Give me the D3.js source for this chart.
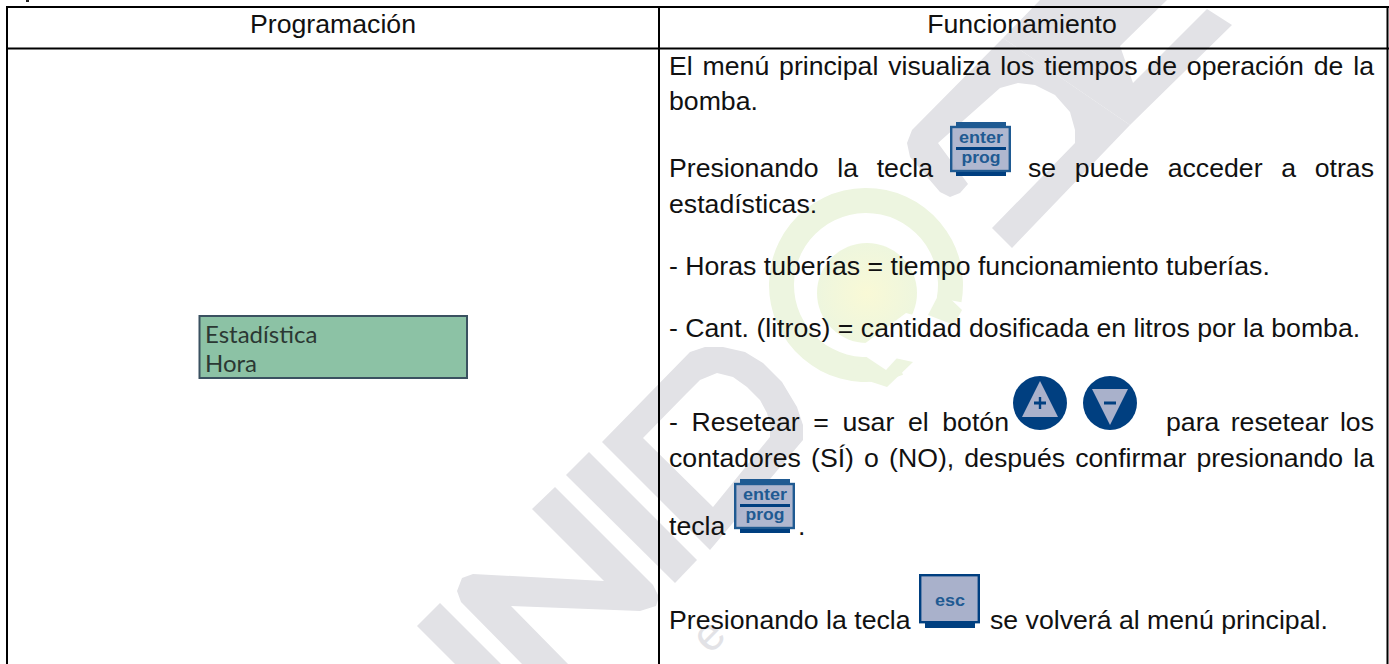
<!DOCTYPE html>
<html>
<head>
<meta charset="utf-8">
<script src="https://cdn.jsdelivr.net/npm/d3@7"></script>
<style>
  html, body { margin: 0; padding: 0; background: #fff; overflow: hidden; }
  svg { display: block; }
  text { font-family: "Liberation Sans", Arial, sans-serif; }
</style>
</head>
<body>
<div id="chart"></div>
<script>
// table content
const headers = ['Programación', 'Funcionamiento'];
const displayLines = ['Estadística', 'Hora'];
const menuLine1 = 'El menú principal visualiza los tiempos de operación de la';
const menuLine2 = 'bomba.';
const keyLine1 = 'Presionando la tecla';
const keyLine1b = 'se puede acceder a otras';
const keyLine2 = 'estadísticas:';
const hoursLine = '- Horas tuberías = tiempo funcionamiento tuberías.';
const litresLine = '- Cant. (litros) = cantidad dosificada en litros por la bomba.';
const resetLine1 = '- Resetear = usar el botón';
const resetLine1b = 'para resetear los';
const resetLine2 = 'contadores (SÍ) o (NO), después confirmar presionando la';
const resetLine3 = 'tecla';
const resetLine3b = '.';
const escLine = 'Presionando la tecla';
const escLineb = 'se volverá al menú principal.';

var width = 1389, height = 664;
var bodySize = 26.67;

var svg = d3.select('#chart')
    .append('svg')
    .attr('width', width)
    .attr('height', height);

var lineGen = d3.line().curve(d3.curveLinearClosed);
var grey = '#e2e2e6';

// watermark letters, behind everything
var wm = svg.append('g');
var letters = [
    // U stem
    [[440,603],[417,626],[455,664],[501,664]],
    // N
    [[555,487],[653,585],[659,597],[656,606],[640,611],[511,606],[568,664],[522,664],[461,602],[457,591],[462,578],[473,574],[604,581],[532,509]],
    // I
    [[589,452],[697,560],[675,583],[566,475]],
    // E
    [[1040,0],[1167,0],[1120,46],[1133,83],[1207,9],[1232,25],[1130,125],[1003,38]]
];
wm.selectAll('path.letter')
    .data(letters)
    .enter()
    .append('path')
    .attr('class', 'letter')
    .attr('d', lineGen)
    .attr('fill', grey);

// D is a ring
var dOuter = [[602,442],[690,352],[705,347],[723,347],[745,352],[763,363],[782,382],[797,407],[803,425],[803,440],[710,550]];
var dInner = [[643,438],[687,393],[700,380],[717,373],[733,377],[747,387],[760,400],[767,413],[770,425],[770,437],[713,507]];
wm.append('path')
    .attr('d', lineGen(dOuter) + lineGen(dInner))
    .attr('fill', grey)
    .attr('fill-rule', 'evenodd');

// S
var sShape = [[1003,38],[912,130],[907,143],[910,157],[940,192],[950,197],[960,193],[968,184],[938,143],[1000,88],[1018,83],[1035,85],[1055,95],[1070,112],[1075,130],[1075,143],[992,228],[1012,248],[1130,125]];
wm.append('path').attr('d', lineGen(sShape)).attr('fill', grey);

wm.append('text')
    .attr('transform', 'translate(710,655) rotate(-45)')
    .attr('font-size', 46)
    .attr('fill', grey)
    .text('e');

// green mark in the middle
var defs = svg.append('defs');
var glow = defs.append('radialGradient').attr('id', 'glow');
glow.append('stop').attr('offset', '0%').attr('stop-color', '#f9f9d6');
glow.append('stop').attr('offset', '100%').attr('stop-color', '#eef6de');

var mark = svg.append('g').attr('transform', 'translate(866,285)');
mark.append('path')
    .attr('d', d3.arc().innerRadius(72).outerRadius(97).startAngle(2.75).endAngle(6.283 + 1.75)())
    .attr('fill', '#edf5e0');
mark.append('path')
    .attr('d', lineGen([[-22,88],[21,102],[47,77],[15,70]]))
    .attr('fill', '#edf5e0');
mark.append('path')
    .attr('d', lineGen([[75,5],[96,25],[88,40],[62,30]]))
    .attr('fill', '#edf5e0');
mark.append('circle')
    .attr('cx', 1).attr('cy', 8).attr('r', 50)
    .attr('fill', 'url(#glow)');
mark.append('path')
    .attr('d', lineGen([[66,35],[20,85],[-10,65],[40,28]]))
    .attr('fill', '#fff');

// table grid
var grid = svg.append('g').attr('stroke', '#000').attr('stroke-width', 2);
var rowY = [7, 48.5];
var colX = d3.scaleOrdinal().domain(['left', 'mid', 'right']).range([7, 659, 1387.5]);
grid.selectAll('line.row')
    .data(rowY)
    .enter()
    .append('line')
    .attr('class', 'row')
    .attr('x1', colX('left') - 1).attr('x2', width)
    .attr('y1', d => d).attr('y2', d => d);
grid.selectAll('line.col')
    .data(colX.domain())
    .enter()
    .append('line')
    .attr('class', 'col')
    .attr('x1', d => colX(d)).attr('x2', d => colX(d))
    .attr('y1', 7).attr('y2', height);
// bit of the heading above the table that got cropped
svg.append('rect').attr('x', 26).attr('y', 0).attr('width', 3).attr('height', 2).attr('fill', '#222');

// header row
svg.selectAll('text.head')
    .data(headers)
    .enter()
    .append('text')
    .attr('class', 'head')
    .attr('x', (d, i) => i == 0 ? 333 : 1022)
    .attr('y', 33)
    .attr('text-anchor', 'middle')
    .attr('font-size', bodySize)
    .attr('fill', '#111')
    .text(d => d);

// writes a run of words, spreading the spaces so it ends at x2 when x2 is given
function writeLine(str, x1, y, x2) {
    var t = svg.append('text')
        .attr('x', x1)
        .attr('y', y)
        .attr('font-size', bodySize)
        .attr('fill', '#111')
        .text(str);
    if (x2) {
        var gaps = str.split(' ').length - 1;
        var extra = (x2 - x1 - t.node().getComputedTextLength()) / gaps;
        t.attr('word-spacing', extra);
    }
    return t;
}

var textLeft = 669, textRight = 1374;
writeLine(menuLine1, textLeft, 75, textRight);
writeLine(menuLine2, textLeft, 110);
writeLine(keyLine1, textLeft, 177, 933);
writeLine(keyLine1b, 1028, 177, textRight);
writeLine(keyLine2, textLeft, 213);
writeLine(hoursLine, textLeft, 275);
writeLine(litresLine, textLeft, 337);
writeLine(resetLine1, textLeft, 431, 1009);
writeLine(resetLine1b, 1166, 431, textRight);
writeLine(resetLine2, textLeft, 467, textRight);
writeLine(resetLine3, textLeft, 535);
writeLine(resetLine3b, 798, 535);
writeLine(escLine, textLeft, 629);
writeLine(escLineb, 990, 629);

// keypad icons
var navy = '#003f80', steel = '#1f5a92', keyFill = '#a9b1cb';

function keyLabel(g, str, cx, y, w) {
    g.append('text')
        .attr('x', cx).attr('y', y)
        .attr('text-anchor', 'middle')
        .attr('font-size', 17)
        .attr('font-weight', 'bold')
        .attr('font-family', '"DejaVu Sans", sans-serif')
        .attr('textLength', w)
        .attr('lengthAdjust', 'spacingAndGlyphs')
        .attr('fill', steel)
        .text(str);
}

function enterKey(x, y) {
    var g = svg.append('g').attr('transform', 'translate(' + x + ',' + y + ')');
    g.append('rect').attr('x', 1.2).attr('y', 5).attr('width', 58.6).attr('height', 44)
        .attr('fill', keyFill).attr('fill-opacity', 0.92).attr('stroke', steel).attr('stroke-width', 2.4);
    g.append('rect').attr('x', 6).attr('y', 0).attr('width', 50).attr('height', 4).attr('fill', steel);
    g.append('rect').attr('x', 6).attr('y', 50).attr('width', 50).attr('height', 4).attr('fill', navy);
    g.append('rect').attr('x', 6).attr('y', 25).attr('width', 50).attr('height', 3).attr('fill', navy);
    keyLabel(g, 'enter', 31, 21, 44);
    keyLabel(g, 'prog', 31, 41, 39);
}
enterKey(950, 122);
enterKey(734, 479);

var esc = svg.append('g').attr('transform', 'translate(919,574)');
esc.append('rect').attr('x', 1.2).attr('y', 1.2).attr('width', 58.6).attr('height', 47)
    .attr('fill', keyFill).attr('stroke', navy).attr('stroke-width', 2.4);
esc.append('rect').attr('x', 6).attr('y', 49).attr('width', 50).attr('height', 5).attr('fill', navy);
keyLabel(esc, 'esc', 31, 32, 30);

function roundKey(cx, cy, tri) {
    var g = svg.append('g').attr('transform', 'translate(' + cx + ',' + cy + ')');
    g.append('circle').attr('r', 27).attr('fill', navy);
    g.append('path').attr('d', lineGen(tri)).attr('fill', keyFill);
    g.append('rect').attr('x', -6).attr('y', -1.5).attr('width', 12).attr('height', 3).attr('fill', navy);
    return g;
}
roundKey(1040, 403, [[0,-22],[-18,14],[18,14]])
    .append('rect').attr('x', -1.2).attr('y', -6).attr('width', 2.4).attr('height', 12).attr('fill', navy);
roundKey(1110, 403, [[-18,-14],[18,-14],[0,22]]);

// LCD display box
var lcd = svg.append('g');
lcd.append('rect')
    .attr('x', 199.5).attr('y', 316).attr('width', 267.5).attr('height', 62)
    .attr('fill', '#8cc2a5').attr('stroke', '#3a5160').attr('stroke-width', 2);
lcd.selectAll('text')
    .data(displayLines)
    .enter()
    .append('text')
    .attr('x', 205)
    .attr('y', (d, i) => i == 0 ? 343 : 372)
    .attr('font-size', 24)
    .attr('fill', '#2b3833')
    .style('font-family', 'Lato, "Open Sans", sans-serif')
    .text(d => d);
</script>
</body>
</html>
